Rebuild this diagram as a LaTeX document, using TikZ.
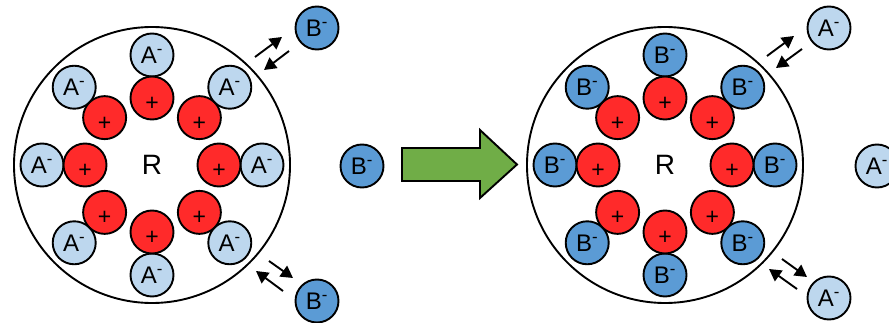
\documentclass[tikz,border=0pt]{standalone}
\usepackage{fontspec}
\setmainfont{Liberation Sans}
\usetikzlibrary{arrows.meta}
\usetikzlibrary{calc}

\definecolor{ionred}{RGB}{255,42,42}
\definecolor{paleA}{RGB}{189,215,238}
\definecolor{deepB}{RGB}{91,155,213}
\definecolor{pushgreen}{RGB}{112,173,71}

\tikzset{
  bead/.style={circle, draw, line width=1.9pt, minimum size=276pt, inner sep=0pt, font=\fontsize{28}{28}\selectfont},
  site/.style={circle, draw, line width=1.9pt, fill=ionred, minimum size=43pt, inner sep=0pt, font=\fontsize{23}{23}\selectfont, text height=25pt, text depth=0pt},
  ionA/.style={circle, draw, line width=1.9pt, fill=paleA, minimum size=43pt, inner sep=0pt, font=\fontsize{24}{24}\selectfont},
  ionB/.style={ionA, fill=deepB},
  swap/.style={line width=1.9pt, -{Triangle[length=12pt,width=13pt]}},
}

\begin{document}
\begin{tikzpicture}[x=1pt,y=1pt]
        \useasboundingbox (0,0) rectangle (889,322);
        %%% before exchange
        \node[bead] (lbead) at (152,157) {R};
        \foreach \a [count=\i] in {0,45,...,315} {
            \node[ionA] (la\i) at ($(lbead)+(\a:110pt)$) {A\textsuperscript{-}};
            \node[site] (lp\i) at ($(lbead)+(\a:67pt)$) {+};
        }
        \node[ionB] (lbt) at (317,294) {B\textsuperscript{-}};
        \node[ionB] (lbm) at (362,156) {B\textsuperscript{-}};
        \node[ionB] (lbb) at (317,21) {B\textsuperscript{-}};
        \coordinate (ltin) at (255,265);
        \coordinate (ltout) at (282,285);
        \coordinate (ltin2) at (289,271);
        \coordinate (ltout2) at (264,252);
        \coordinate (lbin) at (269,61);
        \coordinate (lbout) at (293,44);
        \coordinate (lbin2) at (283,31);
        \coordinate (lbout2) at (256,51);
        \draw[swap] (ltin) -- (ltout);
        \draw[swap] (ltin2) -- (ltout2);
        \draw[swap] (lbin) -- (lbout);
        \draw[swap] (lbin2) -- (lbout2);
        %%% big arrow
        \draw[line width=1.9pt, fill=pushgreen] (402,141) -- (480,141) -- (480,124) -- (517,157.5)
            -- (480,192) -- (480,174) -- (402,174) -- cycle;
        %%% after exchange
        \node[bead] (rbead) at (665,157) {R};
        \foreach \a [count=\i] in {0,45,...,315} {
            \node[ionB] (rb\i) at ($(rbead)+(\a:110pt)$) {B\textsuperscript{-}};
            \node[site] (rp\i) at ($(rbead)+(\a:67pt)$) {+};
        }
        \node[ionA] (rat) at (829,294) {A\textsuperscript{-}};
        \node[ionA] (ram) at (877,156) {A\textsuperscript{-}};
        \node[ionA] (rab) at (829,24) {A\textsuperscript{-}};
        \coordinate (rtin) at (767,266);
        \coordinate (rtout) at (794,286);
        \coordinate (rtin2) at (802,273);
        \coordinate (rtout2) at (776,254);
        \coordinate (rbin) at (782,63);
        \coordinate (rbout) at (807,45);
        \coordinate (rbin2) at (797,33);
        \coordinate (rbout2) at (769,53);
        \draw[swap] (rtin) -- (rtout);
        \draw[swap] (rtin2) -- (rtout2);
        \draw[swap] (rbin) -- (rbout);
        \draw[swap] (rbin2) -- (rbout2);
\end{tikzpicture}
\end{document}
